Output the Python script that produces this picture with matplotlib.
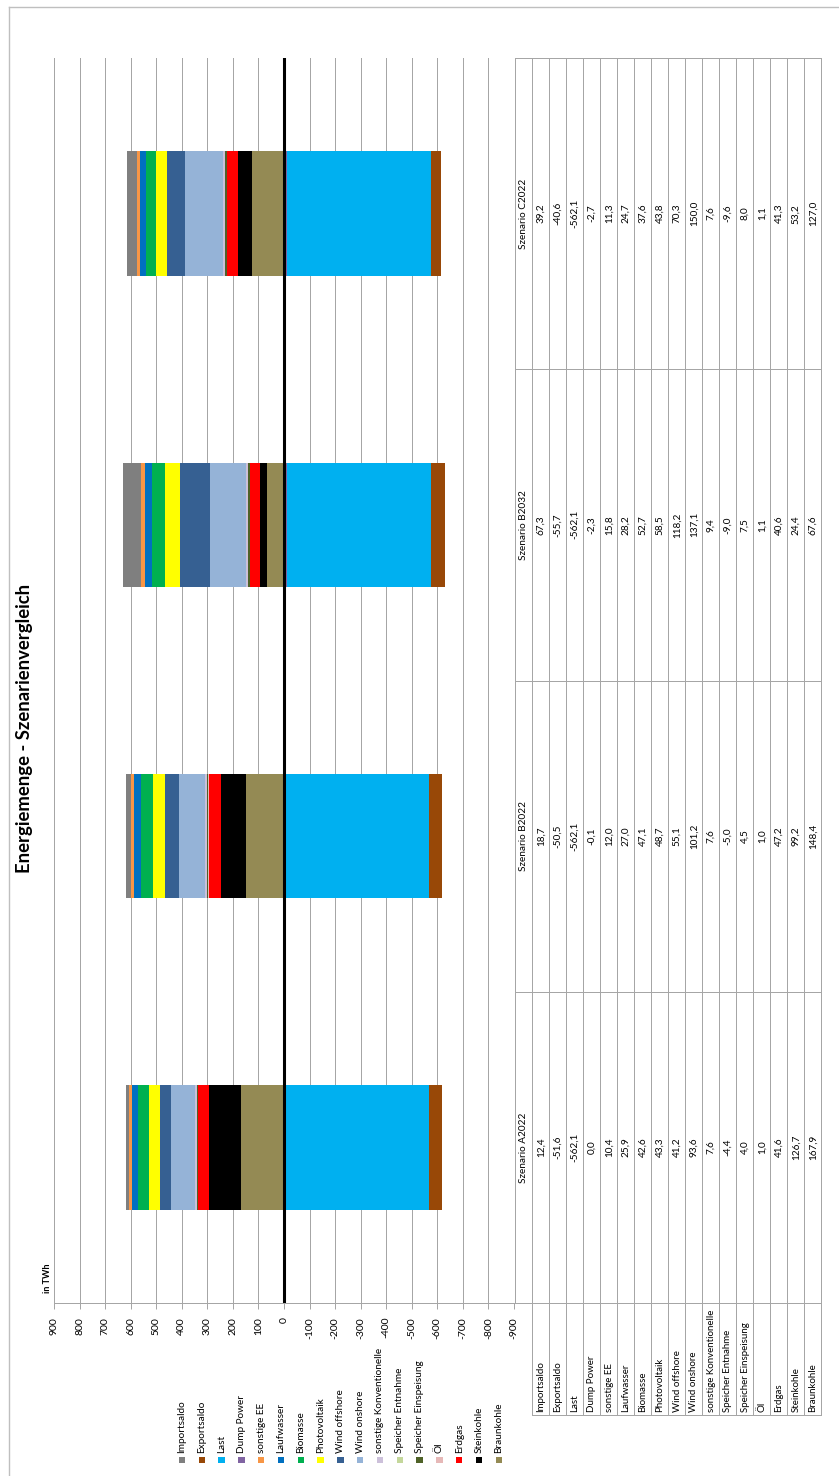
import matplotlib
matplotlib.use("Agg")
import matplotlib.pyplot as plt
import numpy as np
from matplotlib.transforms import blended_transform_factory
from matplotlib.patches import Rectangle

plt.rcParams['font.family'] = ['Lato', 'DejaVu Sans']
plt.rcParams['axes.unicode_minus'] = False

# ---------------- data ----------------
scenarios = ["Szenario A2022", "Szenario B2022", "Szenario B2032", "Szenario C2022"]
series = ["Importsaldo", "Exportsaldo", "Last", "Dump Power", "sonstige EE", "Laufwasser",
          "Biomasse", "Photovoltaik", "Wind offshore", "Wind onshore",
          "sonstige Konventionelle", "Speicher Entnahme", "Speicher Einspeisung",
          "Öl", "Erdgas", "Steinkohle", "Braunkohle"]
colors = ["#7F7F7F", "#984807", "#00B0F0", "#8064A2", "#F79646", "#0070C0",
          "#00B050", "#FFFF00", "#366092", "#95B3D7",
          "#CCC0DA", "#C4D79B", "#4F6228",
          "#E6B8B7", "#FF0000", "#000000", "#948A54"]
vals_A2022 = [12.4, -51.6, -562.1, 0.0, 10.4, 25.9, 42.6, 43.3, 41.2, 93.6, 7.6, -4.4, 4.0, 1.0, 41.6, 126.7, 167.9]
vals_B2022 = [18.7, -50.5, -562.1, -0.1, 12.0, 27.0, 47.1, 48.7, 55.1, 101.2, 7.6, -5.0, 4.5, 1.0, 47.2, 99.2, 148.4]
vals_B2032 = [67.3, -55.7, -562.1, -2.3, 15.8, 28.2, 52.7, 58.5, 118.2, 137.1, 9.4, -9.0, 7.5, 1.1, 40.6, 24.4, 67.6]
vals_C2022 = [39.2, -40.6, -562.1, -2.7, 11.3, 24.7, 37.6, 43.8, 70.3, 150.0, 7.6, -9.6, 8.0, 1.1, 41.3, 53.2, 127.0]
value_ticks = list(range(-900, 901, 100))
title = "Energiemenge - Szenarienvergleich"
unit = "in TWh"

data = np.array([vals_A2022, vals_B2022, vals_B2032, vals_C2022])  # scenarios x series

# ---------------- layout helpers ----------------
W, H = 839, 1476
fig = plt.figure(figsize=(W / 100, H / 100), dpi=100)
fig.patch.set_facecolor("white")

def fx(px):
    return px / W

def fy(py):
    return 1 - py / H

PX = 0.72  # 1 px in points
GRID = "#A6A6A6"
TXT = "#000000"

# main plot area (rotated chart: value axis horizontal, 900 left, -900 right)
pl, pr, pt, pb = 54, 514, 58, 1303
ax = fig.add_axes([fx(pl), fy(pb), fx(pr - pl), (pb - pt) / H])
ax.set_facecolor("none")
ax.set_xlim(900, -900)
ax.set_ylim(-0.5, len(scenarios) - 0.5)

ypos = np.arange(len(scenarios))
pos_acc = np.zeros(len(scenarios))
neg_acc = np.zeros(len(scenarios))
# stack in Excel series order (reverse of legend / table order)
for si in range(len(series) - 1, -1, -1):
    v = data[:, si]
    left = np.where(v >= 0, pos_acc, neg_acc)
    ax.barh(ypos, v, left=left, height=0.40, color=colors[si], linewidth=0, zorder=3)
    pos_acc = pos_acc + np.where(v >= 0, v, 0)
    neg_acc = neg_acc + np.where(v < 0, v, 0)

ax.set_xticks(value_ticks)
ax.set_xticklabels([str(t) for t in value_ticks], rotation=90, fontsize=7.5, color=TXT)
ax.set_yticks([])
ax.grid(axis="x", color=GRID, linewidth=PX, zorder=0)
ax.tick_params(axis="x", direction="out", length=4, width=PX, color=GRID, pad=6)
for s in ["left", "right", "top"]:
    ax.spines[s].set_visible(False)
ax.spines["bottom"].set_color(GRID)
ax.spines["bottom"].set_linewidth(PX)
ax.axvline(0, color="black", linewidth=2.2, zorder=4)

# ---------------- overlay in pixel coordinates ----------------
ov = fig.add_axes([0, 0, 1, 1])
ov.set_xlim(0, W)
ov.set_ylim(H, 0)
ov.axis("off")
ov.patch.set_visible(False)

# outer frame (only left and top edges visible)
ov.plot([9, 9], [7, H], color="#BFBFBF", lw=1.0)
ov.plot([9, W], [7, 7], color="#BFBFBF", lw=1.0)

# title and unit
ov.text(25, 728, title, rotation=90, ha="center", va="center",
        fontsize=13.3, fontweight="bold", color=TXT)
ov.text(47.5, 1293, unit, rotation=90, ha="center", va="bottom",
        fontsize=6.5, fontweight="bold", color=TXT)

# legend
lx0, ldx = 182, 19.8
for i, (name, c) in enumerate(zip(series, colors)):
    x = lx0 + i * ldx
    ov.add_patch(Rectangle((x - 3.2, 1457), 6.4, 6.4, facecolor=c, edgecolor="none"))
    ov.text(x, 1453, name, rotation=90, ha="center", va="bottom", fontsize=7.2, color=TXT)

# data table
bt = blended_transform_factory(ov.transData, ax.transData)
tx_head, tx_rows0, row_w = 515, 532, 17
nrows = len(series)
tx_end = tx_rows0 + nrows * row_w
label_end = 1415
n = len(scenarios)
ov.plot([tx_head, tx_head], [pt, pb], color=GRID, lw=PX)
for k in range(nrows + 1):
    x = tx_rows0 + k * row_w
    ov.plot([x, x], [pt, label_end], color=GRID, lw=PX)
for b in np.arange(-0.5, n, 1.0):
    ov.plot([tx_head, tx_end], [b, b], color=GRID, lw=PX, transform=bt)
ov.plot([tx_rows0, tx_end], [label_end, label_end], color=GRID, lw=PX)

for j, sc in enumerate(scenarios):
    ov.text(tx_head + row_w / 2, j, sc, rotation=90, ha="center", va="center",
            fontsize=7.2, color=TXT, transform=bt)
    for k in range(nrows):
        s = f"{data[j, k]:.1f}".replace(".", ",")
        ov.text(tx_rows0 + k * row_w + row_w / 2 + 0.5, j, s, rotation=90,
                ha="center", va="center", fontsize=7.2, color=TXT, transform=bt)
for k, name in enumerate(series):
    ov.text(tx_rows0 + k * row_w + row_w / 2 + 0.5, label_end - 2.5, name, rotation=90,
            ha="center", va="bottom", fontsize=7.0, color=TXT)

fig.savefig("out.png", dpi=100, facecolor="white")
